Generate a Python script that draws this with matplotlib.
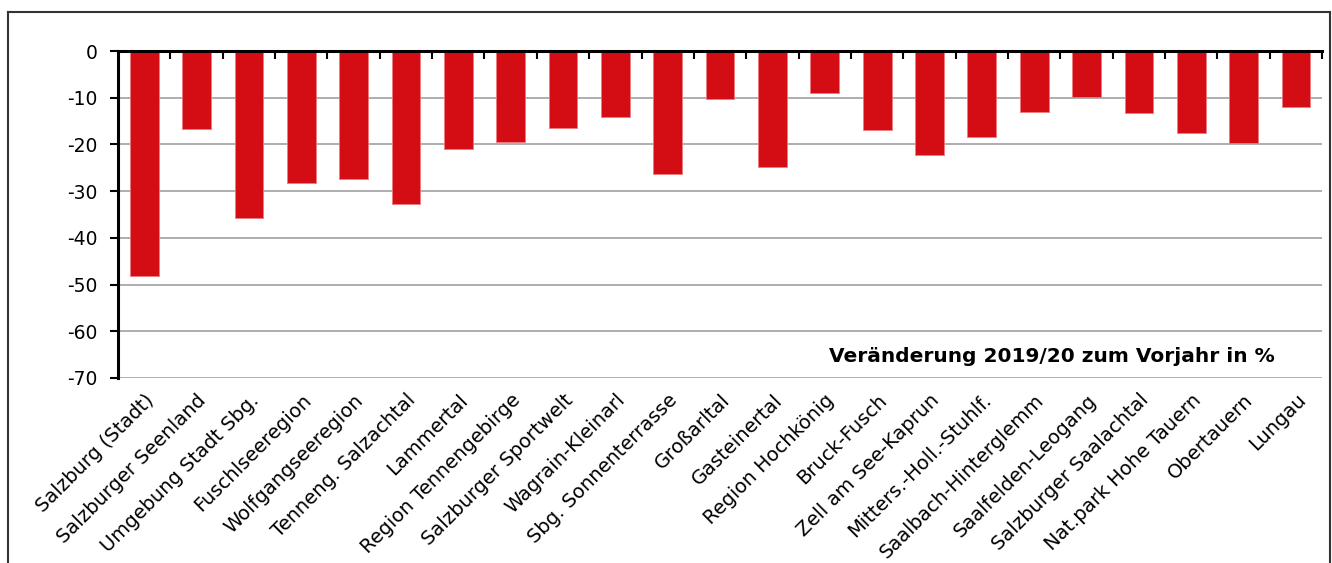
import matplotlib
matplotlib.use("Agg")
import matplotlib.pyplot as plt
from matplotlib.lines import Line2D
from matplotlib.ticker import FixedLocator

plt.rcParams['font.family'] = ['DejaVu Sans']
plt.rcParams['axes.unicode_minus'] = False

# Tourismusregionen und Veränderung in %
regions = ["Salzburg (Stadt)", "Salzburger Seenland", "Umgebung Stadt Sbg.",
           "Fuschlseeregion", "Wolfgangseeregion", "Tenneng. Salzachtal",
           "Lammertal", "Region Tennengebirge", "Salzburger Sportwelt",
           "Wagrain-Kleinarl", "Sbg. Sonnenterrasse", "Großarltal",
           "Gasteinertal", "Region Hochkönig", "Bruck-Fusch",
           "Zell am See-Kaprun", "Mitters.-Holl.-Stuhlf.", "Saalbach-Hinterglemm",
           "Saalfelden-Leogang", "Salzburger Saalachtal", "Nat.park Hohe Tauern",
           "Obertauern", "Lungau"]
change = [-48.1, -16.7, -35.8, -28.3, -27.4, -32.7, -21.0, -19.5, -16.5,
          -14.2, -26.4, -10.2, -24.9, -9.0, -16.9, -22.3, -18.5, -13.1,
          -9.8, -13.3, -17.6, -19.7, -12.0]
yticks = [0, -10, -20, -30, -40, -50, -60, -70]
note = "Veränderung 2019/20 zum Vorjahr in %"

fig = plt.figure(figsize=(13.32, 5.63), dpi=100)
ax = fig.add_axes([0.0886, 0.3286, 0.904, 0.5808])

x = list(range(len(regions)))
ax.bar(x, change, width=0.55, color='#D40D14', edgecolor='#EE7A7E', linewidth=0.6, zorder=3)

ax.set_xlim(-0.5, len(regions) - 0.5)
ax.set_ylim(-70, 0)
ax.set_yticks(yticks)
ax.set_yticklabels([str(v) for v in yticks], fontsize=13.5)
ax.yaxis.grid(True, color='#999999', linewidth=1.1, zorder=0)

# Kategorien unten, Trennstriche oben an der Nulllinie
ax.set_xticks(x)
ax.set_xticklabels(regions, rotation=45, ha='right', rotation_mode='anchor', fontsize=14)
ax.tick_params(axis='x', which='major', length=0, pad=9)
ax.xaxis.set_minor_locator(FixedLocator([i + 0.5 for i in x]))
ax.tick_params(axis='x', which='minor', top=True, bottom=False, direction='in', length=6, width=1.5)
ax.tick_params(axis='y', length=6, width=1.5, pad=9)

for s in ['right', 'bottom']:
    ax.spines[s].set_visible(False)
ax.spines['top'].set_linewidth(2.2)
ax.spines['left'].set_linewidth(2.2)
ax.spines['top'].set_zorder(4)

ax.text(21.6, -65.5, note, ha='right', va='center', fontsize=14.5, fontweight='bold')

# Rahmen um die Grafik
fc = '#333333'
fig.add_artist(Line2D([0.006, 0.006], [0.0, 0.979], color=fc, lw=1.5))
fig.add_artist(Line2D([0.006, 0.9985], [0.979, 0.979], color=fc, lw=1.5))
fig.add_artist(Line2D([0.9985, 0.9985], [0.0, 0.979], color=fc, lw=1.5))

fig.savefig("out.png", dpi=100)
